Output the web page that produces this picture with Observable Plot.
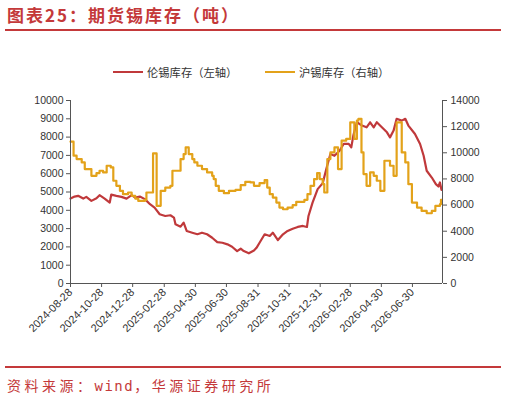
<!DOCTYPE html>
<html><head><meta charset="utf-8">
<script src="https://cdn.jsdelivr.net/npm/d3@7"></script>
<script src="https://cdn.jsdelivr.net/npm/@observablehq/plot@0.6"></script>
<style>
html,body{margin:0;padding:0;background:#fff}
body{width:506px;height:401px;position:relative;overflow:hidden;font-family:"Noto Sans CJK SC",sans-serif}
#title{position:absolute;left:7px;top:6px;font-size:17px;line-height:1;font-weight:bold;color:#c4393a;letter-spacing:2px;white-space:nowrap}
#rule1{position:absolute;left:5px;top:29px;width:496px;height:2px;background:#c4393a}
#chart{position:absolute;left:0;top:45px}
#legend{position:absolute;top:64px;left:0;width:506px;height:16px;font-size:11.3px;line-height:16px;color:#333;z-index:2}
.lg{position:absolute;top:0;white-space:nowrap}
.sw{position:absolute;top:7px;width:30px;height:2px}
#rule2{position:absolute;left:5px;top:366px;width:496px;height:1.5px;background:#c4393a}
#source{position:absolute;left:7px;top:378px;font-size:14px;line-height:1;color:#c4393a;letter-spacing:3.5px;white-space:nowrap}
#source .m{font-family:"DejaVu Sans Mono",monospace;letter-spacing:1.5px}
</style>
</head><body>
<div id="title">图表25：期货锡库存（吨）</div>
<div id="rule1"></div>
<div id="legend"></div>
<div id="chart"></div>
<div id="rule2"></div>
<div id="source">资料来源：<span class="m">wind</span>，华源证券研究所</div>
<script>
// ---- data ----
const seriesNames = ["伦锡库存（左轴）", "沪锡库存（右轴）"];
const seriesColors = ["#c0393b", "#e3a21a"];

const lmeDates = ["2024-08-28","2024-09-05","2024-09-12","2024-09-22","2024-09-28","2024-10-08","2024-10-18","2024-10-24","2024-11-03","2024-11-13","2024-11-16","2024-11-26","2024-12-06","2024-12-16","2024-12-26","2025-01-02","2025-01-11","2025-01-21","2025-01-31","2025-02-09","2025-02-19","2025-03-02","2025-03-12","2025-03-19","2025-03-22","2025-04-01","2025-04-07","2025-04-13","2025-04-24","2025-05-04","2025-05-13","2025-05-23","2025-06-02","2025-06-12","2025-06-22","2025-07-02","2025-07-11","2025-07-21","2025-07-28","2025-08-03","2025-08-13","2025-08-23","2025-08-28","2025-09-03","2025-09-13","2025-09-23","2025-09-29","2025-10-09","2025-10-19","2025-10-28","2025-11-07","2025-11-17","2025-11-27","2025-12-05","2025-12-08","2025-12-16","2025-12-26","2026-01-05","2026-01-12","2026-01-20","2026-01-28","2026-02-07","2026-02-15","2026-02-25","2026-03-02","2026-03-06","2026-03-13","2026-03-23","2026-04-01","2026-04-08","2026-04-15","2026-04-21","2026-05-01","2026-05-11","2026-05-17","2026-05-24","2026-05-30","2026-06-09","2026-06-16","2026-06-22","2026-07-05","2026-07-15","2026-07-22","2026-07-28","2026-08-07","2026-08-15","2026-08-20","2026-08-23","2026-08-26"];
const lmeValues = [4640,4750,4790,4640,4735,4515,4660,4825,4640,4420,4860,4790,4735,4640,4825,4695,4750,4610,4335,4150,3785,3690,3730,3600,3235,3105,3325,2870,2775,2690,2775,2690,2500,2265,2225,2140,2010,1770,1900,1770,1650,1800,1950,2225,2690,2595,2775,2375,2690,2870,2995,3090,3145,3090,3690,4420,5155,5485,6255,7075,6980,7255,7625,7625,7440,8080,8810,8630,8535,8810,8535,8810,8535,8260,7985,8355,9000,8900,9000,8630,8170,7625,6980,6160,5790,5430,5300,5520,5120];

const shfeDates = ["2024-08-28","2024-09-03","2024-09-09","2024-09-19","2024-09-25","2024-10-08","2024-10-18","2024-10-24","2024-10-31","2024-11-07","2024-11-15","2024-11-20","2024-11-26","2024-12-03","2024-12-09","2024-12-19","2024-12-26","2025-01-02","2025-01-08","2025-01-21","2025-01-24","2025-02-06","2025-02-13","2025-02-21","2025-03-02","2025-03-12","2025-03-16","2025-04-01","2025-04-07","2025-04-11","2025-04-17","2025-04-24","2025-04-28","2025-05-04","2025-05-13","2025-05-23","2025-06-02","2025-06-05","2025-06-09","2025-06-15","2025-06-25","2025-07-05","2025-07-18","2025-07-28","2025-08-06","2025-08-16","2025-08-23","2025-09-03","2025-09-13","2025-09-18","2025-09-23","2025-09-29","2025-10-06","2025-10-12","2025-10-19","2025-10-28","2025-11-07","2025-11-14","2025-11-30","2025-12-06","2025-12-12","2025-12-19","2025-12-25","2025-12-30","2026-01-05","2026-01-08","2026-01-14","2026-01-20","2026-01-28","2026-02-04","2026-02-11","2026-02-20","2026-02-28","2026-03-08","2026-03-13","2026-03-16","2026-03-22","2026-03-26","2026-04-01","2026-04-08","2026-04-15","2026-04-21","2026-04-28","2026-05-06","2026-05-17","2026-05-24","2026-05-30","2026-06-09","2026-06-16","2026-06-22","2026-06-29","2026-07-09","2026-07-18","2026-07-28","2026-08-07","2026-08-14","2026-08-23","2026-08-25","2026-08-27"];
const shfeValues = [10850,9780,9520,9260,8755,8240,8450,8625,8495,9010,8880,7860,7470,7090,6835,6960,6705,6500,6320,6400,6960,9950,5940,7090,7340,7470,8625,9520,9900,10410,9900,9520,9260,9010,8755,8495,8240,7990,7470,7090,6910,7090,7165,7525,7780,7730,7470,7680,7910,7340,6835,6575,6190,5805,5680,5805,5990,6245,6400,6835,7470,7990,8450,7990,7600,6960,9520,10030,10410,8755,10930,11060,12330,11060,12460,12600,10030,8370,7470,8495,8240,7860,7090,9390,9010,8240,12330,10030,9260,7600,6190,5805,5550,5375,5550,5935,6070,6400,6400];

const xTickLabels = ["2024-08-28","2024-10-28","2024-12-28","2025-02-28","2025-04-30","2025-06-30","2025-08-31","2025-10-31","2025-12-31","2026-02-28","2026-04-30","2026-06-30"];
const xDomain = ["2024-08-28","2026-08-28"];
const leftTicks = [0,1000,2000,3000,4000,5000,6000,7000,8000,9000,10000];
const rightTicks = [0,2000,4000,6000,8000,10000,12000,14000];
const leftMax = 10000, rightMax = 14000;

// ---- build ----
const parse = d3.utcParse("%Y-%m-%d");
const fmt = d3.utcFormat("%Y-%m-%d");
const ratio = leftMax / rightMax;
const lme = lmeDates.map((d,i)=>({date:parse(d), v:lmeValues[i]}));
const shfe = shfeDates.map((d,i)=>({date:parse(d), v:shfeValues[i]}));
const x0 = parse(xDomain[0]), x1 = parse(xDomain[1]);

// legend
const legend = document.getElementById("legend");
const lgPos = [{sw:113, tx:147},{sw:265, tx:299}];
seriesNames.forEach((n,i)=>{
  const s = document.createElement("div"); s.className="sw"; s.style.left=lgPos[i].sw+"px"; s.style.background=seriesColors[i]; legend.appendChild(s);
  const t = document.createElement("div"); t.className="lg"; t.style.left=lgPos[i].tx+"px"; t.textContent=n; legend.appendChild(t);
});

const axisColor = "#555";
const plot = Plot.plot({
  width: 506,
  height: 310,
  marginLeft: 70,
  marginRight: 64,
  marginTop: 55,
  marginBottom: 72,
  style: {fontFamily: "'Liberation Sans', Arial, sans-serif", fontSize: "10.5px", color: "#333", background: "#fff"},
  x: {type: "utc", domain: [x0, x1]},
  y: {domain: [0, leftMax]},
  marks: [
    Plot.line(lme, {x: "date", y: "v", stroke: seriesColors[0], strokeWidth: 2.2, curve: "linear"}),
    Plot.line(shfe, {x: "date", y: d => d.v * ratio, stroke: seriesColors[1], strokeWidth: 2.2, curve: "step-after"}),
    Plot.ruleY([0], {stroke: axisColor, strokeWidth: 1}),
    Plot.ruleX([x0, x1], {y1: 0, y2: leftMax, stroke: axisColor, strokeWidth: 1}),
    Plot.axisY({anchor: "left", ticks: leftTicks, tickSize: 4, tickPadding: 3, tickFormat: d => String(d), label: null, stroke: axisColor, fill: "#333"}),
    Plot.axisY({anchor: "right", ticks: rightTicks.map(v => v * ratio), tickSize: 4, tickPadding: 4, tickFormat: d => String(Math.round(d / ratio)), label: null, stroke: axisColor, fill: "#333"}),
    Plot.axisX({ticks: xTickLabels.map(parse), tickFormat: fmt, tickRotate: -45, tickSize: 4, tickPadding: 3, label: null, fontSize: 11, stroke: axisColor, fill: "#333"})
  ]
});
document.getElementById("chart").appendChild(plot);
</script>
</body></html>
